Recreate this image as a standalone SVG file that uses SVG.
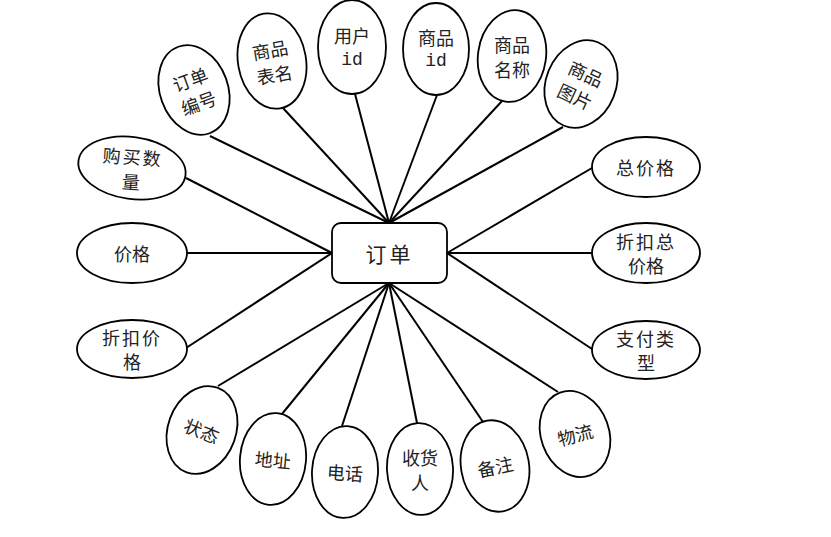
<svg xmlns="http://www.w3.org/2000/svg" width="831" height="537" viewBox="0 0 831 537">
<style>
.e{fill:#fff;stroke:#000;stroke-width:1.8}
.c line{stroke:#000;stroke-width:2}
text{font-family:"Noto Sans CJK SC","Liberation Sans",sans-serif;font-size:18px;fill:#222;text-anchor:middle;dominant-baseline:central}
.m{font-family:"Liberation Mono",monospace}
</style>
<rect width="831" height="537" fill="#fff"/>
<g class="c" id="connectors">
<line x1="210" y1="136" x2="389" y2="223"/>
<line x1="283" y1="108" x2="389" y2="223"/>
<line x1="355" y1="94" x2="389" y2="223"/>
<line x1="437" y1="95" x2="389" y2="223"/>
<line x1="502" y1="101" x2="389" y2="223"/>
<line x1="563" y1="127" x2="389" y2="223"/>
<line x1="186" y1="178" x2="332" y2="253"/>
<line x1="187" y1="253" x2="332" y2="253"/>
<line x1="186" y1="348" x2="332" y2="253"/>
<line x1="592" y1="168" x2="447" y2="253"/>
<line x1="592" y1="253" x2="447" y2="253"/>
<line x1="592" y1="349" x2="447" y2="253"/>
<line x1="218" y1="386" x2="389" y2="283"/>
<line x1="282" y1="414" x2="389" y2="283"/>
<line x1="342" y1="426" x2="389" y2="283"/>
<line x1="417" y1="423" x2="389" y2="283"/>
<line x1="483" y1="422" x2="389" y2="283"/>
<line x1="558" y1="392" x2="389" y2="283"/>
</g>
<g id="order">
<rect x="332" y="223" width="115" height="60" rx="9" class="e"/>
<text x="389.5" y="253" style="font-size:21px;letter-spacing:3px">订单</text>
</g>
<g id="n1"><ellipse class="e" cx="0" cy="0" rx="34" ry="46" transform="translate(194,90) rotate(-20)"/>
<g transform="translate(194,90) rotate(-20)"><text y="-12">订单</text><text y="13">编号</text></g></g>
<g id="n2"><ellipse class="e" cx="0" cy="0" rx="34" ry="48" transform="translate(272,61) rotate(-10)"/>
<g transform="translate(272,61) rotate(-10)"><text y="-12">商品</text><text y="13">表名</text></g></g>
<g id="n3"><ellipse class="e" cx="352" cy="47" rx="34" ry="47"/>
<text x="352" y="35">用户</text><text x="352" y="60" class="m">id</text></g>
<g id="n4"><ellipse class="e" cx="436" cy="49" rx="33" ry="46"/>
<text x="436" y="37">商品</text><text x="436" y="61" class="m">id</text></g>
<g id="n5"><ellipse class="e" cx="0" cy="0" rx="34" ry="46" transform="translate(512,56) rotate(8)"/>
<text x="512" y="44">商品</text><text x="512" y="69">名称</text></g>
<g id="n6"><ellipse class="e" cx="0" cy="0" rx="35" ry="45" transform="translate(581,84) rotate(22)"/>
<g transform="translate(581,84) rotate(25)"><text y="-12">商品</text><text y="13">图片</text></g></g>
<g id="n7"><ellipse class="e" cx="0" cy="0" rx="54" ry="31" transform="translate(132,168) rotate(8)"/>
<g transform="translate(132,168) rotate(4)"><text y="-12" style="letter-spacing:2px">购买数</text><text y="13">量</text></g></g>
<g id="n8"><ellipse class="e" cx="132" cy="253" rx="55" ry="30"/>
<text x="132" y="253">价格</text></g>
<g id="n9"><ellipse class="e" cx="132" cy="349" rx="55" ry="29"/>
<text x="132" y="337" style="letter-spacing:2px">折扣价</text><text x="132" y="361">格</text></g>
<g id="n10"><ellipse class="e" cx="646" cy="167" rx="54" ry="30"/>
<text x="646" y="167" style="letter-spacing:2px">总价格</text></g>
<g id="n11"><ellipse class="e" cx="646" cy="253" rx="54" ry="30"/>
<text x="646" y="241" style="letter-spacing:2px">折扣总</text><text x="646" y="265">价格</text></g>
<g id="n12"><ellipse class="e" cx="646" cy="350" rx="54" ry="29"/>
<text x="646" y="338" style="letter-spacing:2px">支付类</text><text x="646" y="362">型</text></g>
<g id="n13"><ellipse class="e" cx="0" cy="0" rx="34" ry="45" transform="translate(202,430) rotate(20)"/>
<text transform="translate(202,430) rotate(22)">状态</text></g>
<g id="n14"><ellipse class="e" cx="0" cy="0" rx="33" ry="46" transform="translate(273,459) rotate(5)"/>
<text transform="translate(273,459) rotate(5)">地址</text></g>
<g id="n15"><ellipse class="e" cx="0" cy="0" rx="33" ry="46" transform="translate(345,472) rotate(3)"/>
<text transform="translate(345,472) rotate(4)">电话</text></g>
<g id="n16"><ellipse class="e" cx="0" cy="0" rx="33" ry="46" transform="translate(420,469) rotate(-3)"/>
<text x="420" y="457">收货</text><text x="420" y="482">人</text></g>
<g id="n17"><ellipse class="e" cx="0" cy="0" rx="34" ry="46" transform="translate(495,466) rotate(-10)"/>
<text transform="translate(495,466) rotate(-12)">备注</text></g>
<g id="n18"><ellipse class="e" cx="0" cy="0" rx="34" ry="44" transform="translate(575,434) rotate(-20)"/>
<text transform="translate(575,434) rotate(-15)">物流</text></g>
</svg>
